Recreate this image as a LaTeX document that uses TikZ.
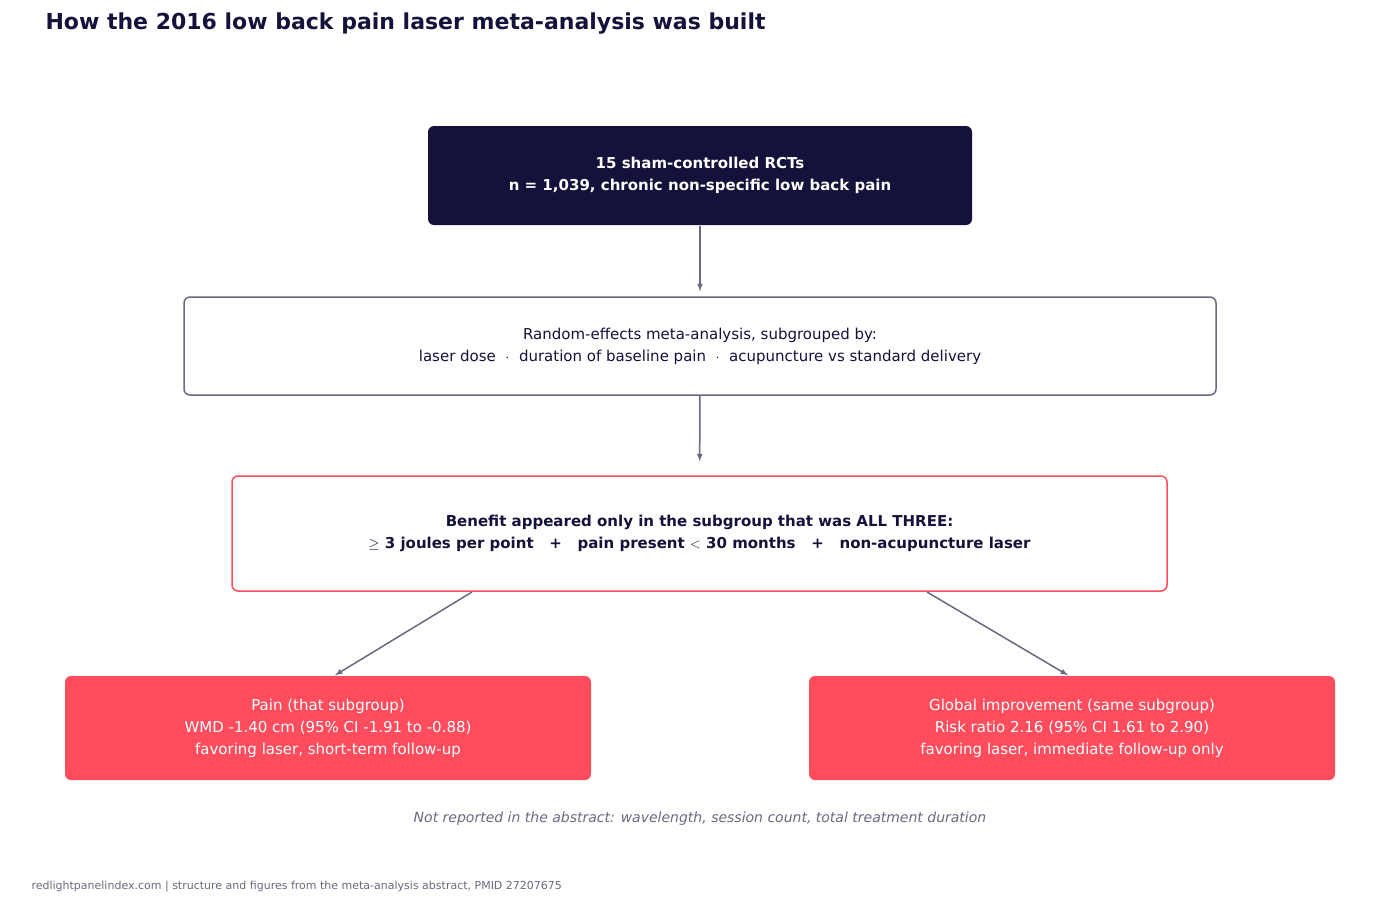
\documentclass[tikz,border=0pt]{standalone}
\usepackage{fontspec}
\setmainfont{DejaVu Sans}
\usetikzlibrary{arrows, positioning, shapes}

\definecolor{navy}{HTML}{14123A}
\definecolor{slate}{HTML}{6B6880}
\definecolor{coral}{HTML}{FF4D5E}

\tikzset{
  box/.style={rectangle, rounded corners=6pt, align=center, line width=1.5pt, font=\fontsize{15}{22}\selectfont},
  link/.style={-latex, draw=slate, line width=1.5pt, shorten >=5pt}
}

\begin{document}
\begin{tikzpicture}[x=1pt, y=-1pt]

\useasboundingbox[fill=white] (0,0) rectangle (1400,900);

% title
\node[anchor=west, text=navy, font=\fontsize{22}{26}\selectfont\bfseries] (title) at (42,24) {How the 2016 low back pain laser meta-analysis was built};

% boxes from top to bottom
\node[box, fill=navy, text=white, font=\fontsize{15}{22}\selectfont\bfseries, minimum width=544pt, minimum height=99pt] (trials) at (700,175.5)
  {15 sham-controlled RCTs\\n = 1,039, chronic non-specific low back pain};
\node[box, draw=slate, text=navy, minimum width=1032pt, minimum height=98pt] (method) at (700,346)
  {Random-effects meta-analysis, subgrouped by:\\laser dose \ $\cdot$\ \ duration of baseline pain \ $\cdot$\ \ acupuncture vs standard delivery};
\node[box, draw=coral, text=navy, font=\fontsize{15}{22}\selectfont\bfseries, minimum width=935pt, minimum height=115pt] (benefit) at (699.5,533.5)
  {Benefit appeared only in the subgroup that was ALL THREE:\\$\geq$ 3 joules per point \ \ + \ \ pain present $<$ 30 months \ \ + \ \ non-acupuncture laser};
\node[box, fill=coral, text=white, minimum width=526pt, minimum height=104pt] (pain) at (328,728)
  {Pain (that subgroup)\\WMD -1.40 cm (95\% CI -1.91 to -0.88)\\favoring laser, short-term follow-up};
\node[box, fill=coral, text=white, minimum width=526pt, minimum height=104pt] (global) at (1072,728)
  {Global improvement (same subgroup)\\Risk ratio 2.16 (95\% CI 1.61 to 2.90)\\favoring laser, immediate follow-up only};

% arrows
\draw[link] (trials) -- (method);
\draw[link, shorten >=14pt] (method) -- (benefit);
\draw[link, shorten >=0pt] (472,592) -- (pain.north -| 335,0);
\draw[link, shorten >=0pt] (927,592) -- (global.north -| 1068,0);

% notes
\node[text=slate, font=\fontsize{14}{16}\selectfont\itshape] (note) at (700,819) {Not reported in the abstract: wavelength, session count, total treatment duration};
\node[anchor=west, text=slate, font=\fontsize{11}{13}\selectfont] (source) at (28,887) {redlightpanelindex.com | structure and figures from the meta-analysis abstract, PMID 27207675};

\end{tikzpicture}
\end{document}
